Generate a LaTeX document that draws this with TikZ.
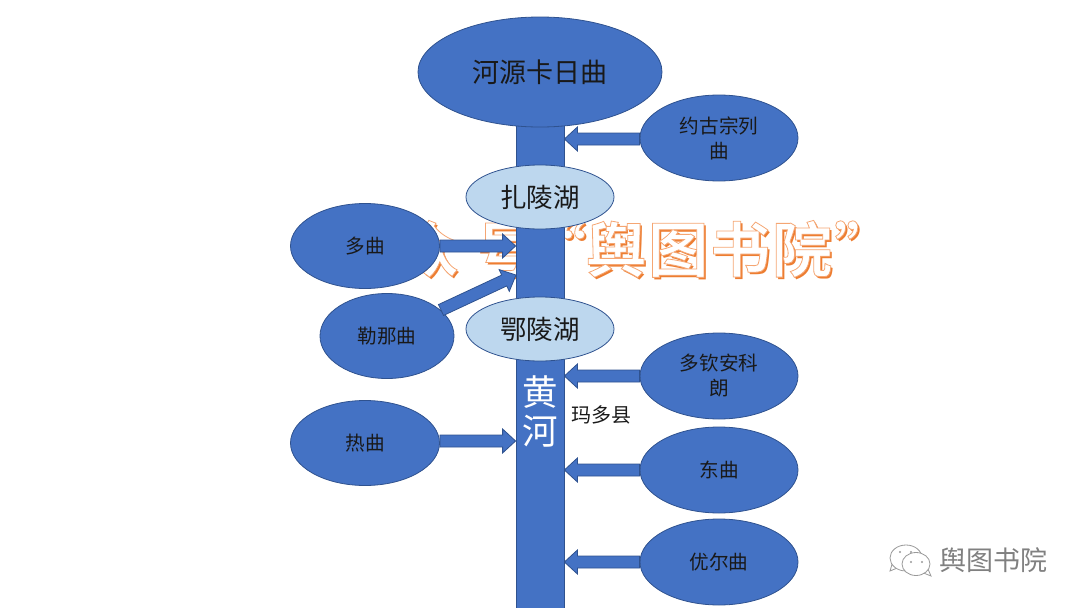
\documentclass[tikz,border=0pt]{standalone}
\usepackage{fontspec}
\setmainfont{Noto Sans CJK SC}
\newfontfamily\boldcjk{Noto Sans CJK SC Bold}
\usetikzlibrary{shapes.geometric,calc}
\definecolor{riverblue}{HTML}{4472C4}
\definecolor{edgeblue}{HTML}{2F528F}
\definecolor{lakeblue}{HTML}{BDD7EE}
\definecolor{markorange}{HTML}{ED7D31}
\tikzset{
  river/.style={ellipse,draw=edgeblue,fill=riverblue,line width=0.8pt,inner sep=0pt,text=black!90,font=\fontsize{19.6}{25}\selectfont,align=center},
  bigriver/.style={river,minimum width=158pt,minimum height=86pt},
  leftriver/.style={river,minimum width=149pt,minimum height=85pt},
  lake/.style={ellipse,draw=edgeblue,fill=lakeblue,line width=0.8pt,inner sep=0pt,minimum width=148pt,minimum height=64pt,text=black!90,font=\fontsize{26.5}{30}\selectfont},
  barstyle/.style={rectangle,draw=edgeblue,fill=riverblue,line width=0.8pt,inner sep=0pt},
  blockarrow/.style={draw=edgeblue,fill=riverblue,line width=0.8pt,line join=miter},
  logoline/.style={draw=black!40,fill=white,line width=0.8pt},
}
\newcommand{\blockconn}[2]{%
  \coordinate (hb) at ($(#2)!13pt!(#1)$);
  \draw[blockarrow] ($(#1)!6pt!90:(#2)$) -- ($(hb)!6pt!-90:(#1)$) -- ($(hb)!12pt!-90:(#1)$) -- (#2)
    -- ($(hb)!12pt!90:(#1)$) -- ($(hb)!6pt!90:(#1)$) -- ($(#1)!6pt!-90:(#2)$) -- cycle;
}
\newcommand{\marktext}{公众\hspace{15pt}号\hspace{-9pt}“舆\hspace{2pt}图\hspace{2pt}书\hspace{2pt}院\hspace{2pt}”}
\begin{document}
\begin{tikzpicture}[x=1pt,y=-1pt]
\useasboundingbox (0,0) rectangle (1080,608);
\clip (0,0) rectangle (1080,608);
% watermark
\node[anchor=west,inner sep=0pt,text=markorange,font=\boldcjk\fontsize{60}{60}\selectfont] (markshadow) at (342.5,251.5) {\marktext};
\node[anchor=west,inner sep=0pt,text=white,font=\boldcjk\fontsize{60}{60}\selectfont] (mark) at (340,249) {\special{pdf:code q 2 Tr 0.8 w 0.96 0.65 0.45 RG}\marktext\special{pdf:code 0 Tr Q}};
% main stem
\node[barstyle,minimum width=48pt,minimum height=490pt,anchor=north] (bar) at (540,125) {};
\node[text=white,font=\fontsize{35.5}{39}\selectfont,align=center,inner sep=0pt] (huanghe) at (540,411) {黄\\河};
\node[font=\fontsize{20}{22}\selectfont,text=black!90,inner sep=0pt] (maduo) at (601,415) {玛多县};
% nodes
\node[river,minimum width=244pt,minimum height=110pt,font=\fontsize{27}{32}\selectfont] (source) at (540,72) {河源卡日曲};
\node[bigriver] (yuegu) at (719,138) {约古宗列\\曲};
\node[lake] (zaling) at (540,197) {扎陵湖};
\node[lake] (eling) at (540,329) {鄂陵湖};
\node[leftriver] (duo) at (365,246) {多曲};
\node[river,minimum width=134pt,minimum height=85pt] (lena) at (387,336) {勒那曲};
\node[leftriver] (re) at (365,443) {热曲};
\node[bigriver] (duoqin) at (719,376) {多钦安科\\朗};
\node[bigriver] (dong) at (719,470) {东曲};
\node[bigriver] (youer) at (719,562) {优尔曲};
% block arrows
\coordinate (lenafrom) at (441,310);
\coordinate (lenato) at (516,275);
\blockconn{yuegu.west |- 0,139}{bar.east |- 0,139}
\blockconn{duo.east}{bar.west |- duo.east}
\blockconn{lenafrom}{lenato}
\blockconn{re.east |- 0,441}{bar.west |- 0,441}
\blockconn{duoqin.west}{bar.east |- duoqin.west}
\blockconn{dong.west}{bar.east |- dong.west}
\blockconn{youer.west}{bar.east |- youer.west}
% logo
\begin{scope}
\draw[logoline] (893,561) -- (890,571) -- (902,566) -- cycle;
\draw[logoline] (906,558) ellipse [x radius=16,y radius=13];
\draw[logoline] (928,569) -- (931,576) -- (921,572) -- cycle;
\draw[logoline] (916,564) ellipse [x radius=14,y radius=11.5];
\fill[black!40] (900,552) circle (1.2) (911,552) circle (1.2) (911,562) circle (1.2) (922,562) circle (1.2);
\end{scope}
\node[anchor=west,inner sep=0pt,text=black!50,font=\fontsize{27}{29}\selectfont] (logotext) at (939,560) {舆图书院};
\end{tikzpicture}
\end{document}
